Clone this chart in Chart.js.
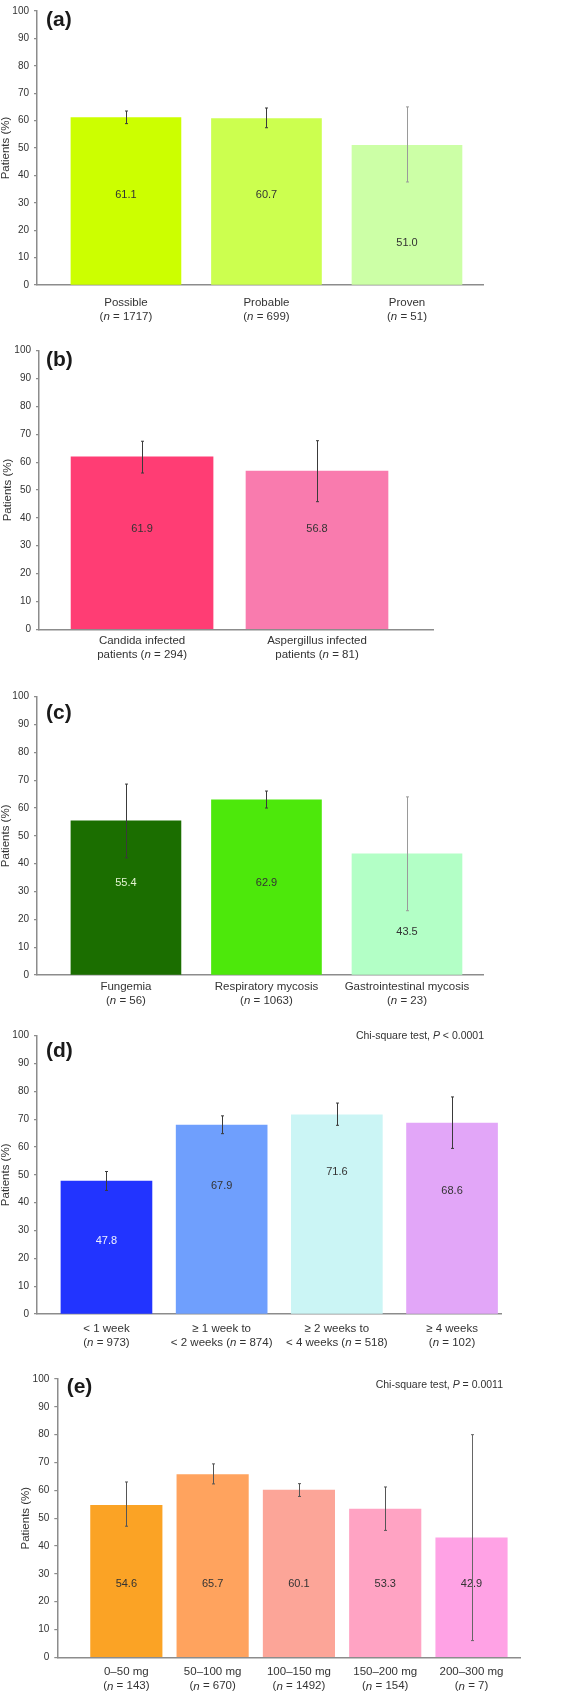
<!DOCTYPE html>
<html>
<head>
<meta charset="utf-8">
<script src="https://cdn.jsdelivr.net/npm/chart.js@4.4.1/dist/chart.umd.min.js"></script>
<style>
    html, body { margin: 0; padding: 0; background: #fff; }
    #wrap { position: relative; width: 572px; height: 1694px; }
    #wrap canvas { position: absolute; left: 0; }
</style>
</head>
<body>
<div id="wrap"></div>
<script>
const FONT = '"Liberation Sans", Arial, Helvetica, sans-serif';
const yTicks = [0, 10, 20, 30, 40, 50, 60, 70, 80, 90, 100];

// (a) certainty of diagnosis
const labelsA = [['Possible', '(*n* = 1717)'], ['Probable', '(*n* = 699)'], ['Proven', '(*n* = 51)']];
const valuesA = [61.1, 60.7, 51.0];
const lowA = [58.9, 57.4, 37.6];
const highA = [63.5, 64.6, 65.0];

// (b) pathogen
const labelsB = [['Candida infected', 'patients (*n* = 294)'], ['Aspergillus infected', 'patients (*n* = 81)']];
const valuesB = [61.9, 56.8];
const lowB = [56.1, 45.8];
const highB = [67.5, 67.7];

// (c) site of infection
const labelsC = [['Fungemia', '(*n* = 56)'], ['Respiratory mycosis', '(*n* = 1063)'], ['Gastrointestinal mycosis', '(*n* = 23)']];
const valuesC = [55.4, 62.9, 43.5];
const lowC = [42.1, 60.0, 23.1];
const highC = [68.6, 66.1, 64.0];

// (d) treatment duration
const labelsD = [['< 1 week', '(*n* = 973)'], ['≥ 1 week to', '< 2 weeks (*n* = 874)'], ['≥ 2 weeks to', '< 4 weeks (*n* = 518)'], ['≥ 4 weeks', '(*n* = 102)']];
const valuesD = [47.8, 67.9, 71.6, 68.6];
const lowD = [44.4, 64.8, 67.8, 59.5];
const highD = [51.2, 71.2, 75.8, 78.0];

// (e) daily dose
const labelsE = [['0–50 mg', '(*n* = 143)'], ['50–100 mg', '(*n* = 670)'], ['100–150 mg', '(*n* = 1492)'], ['150–200 mg', '(*n* = 154)'], ['200–300 mg', '(*n* = 7)']];
const valuesE = [54.6, 65.7, 60.1, 53.3, 42.9];
const lowE = [47.1, 62.3, 57.8, 45.6, 6.0];
const highE = [63.0, 69.5, 62.4, 61.2, 80.0];

const DARK = '#3a3a3a';
const GREY = '#9a9a9a';

// canvases overlap a little (they are transparent) so the two-line labels fit
const panels = [
    {
        letter: '(a)', top: 0, height: 345, left: 37, plotTop: 5.7, plotBottom: 285, right: 483,
        xMin: -0.633, xMax: 2.541, barWidth: 110, titlePad: 0, letterX: 46, letterY: 20, catOffset: 18,
        labels: labelsA, values: valuesA, low: lowA, high: highA,
        colors: ['#ccff00', '#ccff4f', '#ccffa6'],
        textAt: [32.8, 32.8, 15.5], textColors: ['#333', '#333', '#333'], errColors: [DARK, DARK, GREY]
    },
    {
        letter: '(b)', top: 330, height: 345, left: 39, plotTop: 20.7, plotBottom: 299.3, right: 433,
        xMin: -0.589, xMax: 1.663, barWidth: 142, titlePad: 2, letterX: 46, letterY: 30.7, catOffset: 11.7,
        labels: labelsB, values: valuesB, low: lowB, high: highB,
        colors: ['#ff3d74', '#f97bae'],
        textAt: [35.9, 35.9], textColors: ['#333', '#333'], errColors: [DARK, DARK]
    },
    {
        letter: '(c)', top: 660, height: 355, left: 37, plotTop: 36.7, plotBottom: 315, right: 483,
        xMin: -0.633, xMax: 2.541, barWidth: 110, titlePad: 0, letterX: 46, letterY: 53.3, catOffset: 11.7,
        labels: labelsC, values: valuesC, low: lowC, high: highC,
        colors: ['#1b6e00', '#4de80b', '#b3ffc6'],
        textAt: [32.9, 32.9, 15.6], textColors: ['#e4f4d2', '#333', '#333'], errColors: [DARK, DARK, GREY]
    },
    {
        letter: '(d)', top: 990, height: 370, left: 37, plotTop: 45.7, plotBottom: 324, right: 501,
        xMin: -0.603, xMax: 3.425, barWidth: 91, titlePad: 0, letterX: 46, letterY: 61.7, catOffset: 15,
        labels: labelsD, values: valuesD, low: lowD, high: highD,
        colors: ['#2234ff', '#6f9ffd', '#cbf5f5', '#e2a6f8'],
        textAt: [26.3, 45.9, 50.9, 44.1], textColors: ['#eef0ff', '#333', '#333', '#333'], errColors: [DARK, DARK, DARK, DARK],
        note: 'Chi-square test, *P* < 0.0001', noteRight: 484, noteY: 45.7
    },
    {
        letter: '(e)', top: 1330, height: 364, left: 57.3, plotTop: 49, plotBottom: 327.3, right: 520.7,
        xMin: -0.8, xMax: 4.57, barWidth: 71.5, titlePad: 20, letterX: 66.7, letterY: 57, catOffset: 15,
        labels: labelsE, values: valuesE, low: lowE, high: highE,
        colors: ['#fba325', '#ffa35e', '#fca598', '#ffa3c3', '#ffa2e5'],
        textAt: [26.2, 26.2, 26.2, 26.2, 26.2], textColors: ['#333', '#333', '#333', '#333', '#333'],
        errColors: ['#555', '#555', '#555', '#555', '#666'],
        note: 'Chi-square test, *P* = 0.0011', noteRight: 503, noteY: 55
    }
];

// text with *italic* parts
function drawRich(ctx, text, x, y, align, size, color) {
    const parts = text.split('*');
    const fonts = parts.map((_, i) => (i % 2 ? 'italic ' : '') + size + 'px ' + FONT);
    let total = 0;
    parts.forEach((t, i) => { ctx.font = fonts[i]; total += ctx.measureText(t).width; });
    let cx = align === 'center' ? x - total / 2 : align === 'right' ? x - total : x;
    ctx.fillStyle = color;
    ctx.textAlign = 'left';
    ctx.textBaseline = 'middle';
    parts.forEach((t, i) => {
        ctx.font = fonts[i];
        ctx.fillText(t, cx, y);
        cx += ctx.measureText(t).width;
    });
}

const decor = {
    id: 'decor',
    afterDatasetsDraw(chart, args, o) {
        const ctx = chart.ctx;
        const xs = chart.scales.x, ys = chart.scales.y;
        ctx.save();
        o.values.forEach((v, i) => {
            drawRich(ctx, v.toFixed(1), xs.getPixelForValue(i), ys.getPixelForValue(o.textAt[i]), 'center', 11, o.textColors[i]);
        });
        o.low.forEach((lo, i) => {
            const px = Math.round(xs.getPixelForValue(i)) + 0.5;
            const y1 = ys.getPixelForValue(lo);
            const y2 = ys.getPixelForValue(o.high[i]);
            ctx.strokeStyle = o.errColors[i];
            ctx.lineWidth = 1;
            ctx.beginPath();
            ctx.moveTo(px, y1); ctx.lineTo(px, y2);
            ctx.moveTo(px - 1.5, y1); ctx.lineTo(px + 1.5, y1);
            ctx.moveTo(px - 1.5, y2); ctx.lineTo(px + 1.5, y2);
            ctx.stroke();
        });
        ctx.restore();
    },
    afterDraw(chart, args, o) {
        const ctx = chart.ctx;
        const xs = chart.scales.x;
        const base = o.plotBottom;
        ctx.save();
        o.labels.forEach((lines, i) => {
            lines.forEach((line, k) => {
                drawRich(ctx, line, xs.getPixelForValue(i), base + o.catOffset + k * 14, 'center', 11.5, '#333');
            });
        });
        ctx.font = 'bold 21px ' + FONT;
        ctx.fillStyle = '#1a1a1a';
        ctx.textAlign = 'left';
        ctx.textBaseline = 'middle';
        ctx.fillText(o.letter, o.letterX, o.letterY);
        if (o.note) {
            drawRich(ctx, o.note, o.noteRight, o.noteY, 'right', 10.5, '#333');
        }
        ctx.restore();
    }
};

const wrap = document.getElementById('wrap');

panels.forEach(p => {
    const canvas = document.createElement('canvas');
    canvas.width = 572;
    canvas.height = p.height;
    canvas.style.top = p.top + 'px';
    wrap.appendChild(canvas);

    new Chart(canvas, {
        type: 'bar',
        data: {
            datasets: [{
                data: p.values.map((v, i) => ({ x: i, y: v })),
                backgroundColor: p.colors,
                borderWidth: 0,
                barThickness: p.barWidth
            }]
        },
        options: {
            responsive: false,
            animation: false,
            layout: { padding: { top: p.plotTop, right: 572 - p.right, bottom: 0, left: 0 } },
            plugins: {
                legend: { display: false },
                tooltip: { enabled: false },
                decor: p
            },
            scales: {
                x: {
                    type: 'linear',
                    min: p.xMin,
                    max: p.xMax,
                    offset: false,
                    grid: { display: false },
                    border: { color: '#8c8c8c', width: 1.5 },
                    ticks: { display: false },
                    afterFit: s => { s.height = p.height - p.plotBottom; }
                },
                y: {
                    min: 0,
                    max: 100,
                    afterBuildTicks: s => { s.ticks = yTicks.map(v => ({ value: v })); },
                    grid: { drawOnChartArea: false, tickLength: 3, color: '#8c8c8c', lineWidth: 1.2 },
                    border: { color: '#8c8c8c', width: 1.5 },
                    ticks: { padding: 5, color: '#333', font: { family: FONT, size: 10 } },
                    title: {
                        display: true,
                        text: 'Patients (%)',
                        color: '#333',
                        font: { family: FONT, size: 11.5, lineHeight: 1 },
                        padding: { top: p.titlePad, bottom: 0 }
                    },
                    afterFit: s => { s.width = p.left; }
                }
            }
        },
        plugins: [decor]
    });
});
</script>
</body>
</html>
